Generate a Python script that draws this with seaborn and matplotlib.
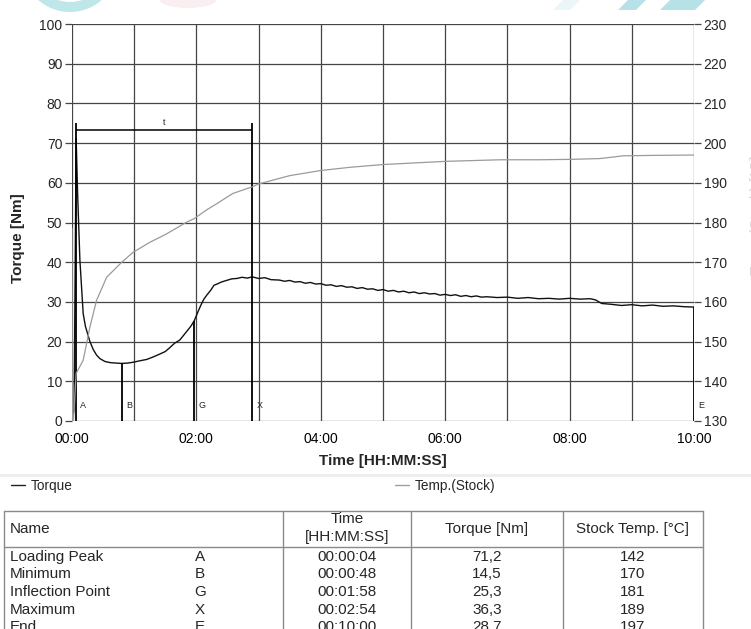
import matplotlib
matplotlib.use("Agg")
import matplotlib.pyplot as plt
import seaborn as sns
import pandas as pd
from matplotlib.patches import Wedge, Polygon, Ellipse
from matplotlib.lines import Line2D
from matplotlib.ticker import MultipleLocator, FuncFormatter

# ---- Torque curve (time in s, torque in Nm) ----
torque_time = [0, 2, 4, 5.4, 7.6, 10.8, 13, 17.3, 20.5, 23.7, 27, 31.7, 37, 42, 48,
               54, 59, 66, 72, 78, 85, 90, 94, 99, 104, 108, 112, 115, 118, 121, 124,
               127, 130, 134, 137, 140, 144, 149, 154, 159, 164, 169, 174, 180, 186,
               192, 200, 205, 210, 215, 220, 225, 230, 235, 240, 245, 250, 255, 260, 265,
               270, 275, 280, 285, 290, 295, 300, 305, 310, 315, 320, 325, 330, 335, 340,
               345, 350, 355, 360, 365, 370, 375, 380, 385, 390, 395, 400, 410, 420, 430,
               440, 450, 460, 470, 480, 490, 500, 505, 511, 520, 530, 540, 550, 560, 570,
               580, 590, 600]
torque_nm = [0, 3.0, 71.2, 57.4, 40.6, 27.0, 23.8, 20.0, 18.0, 16.6, 15.7, 15.0, 14.7, 14.6, 14.5,
             14.6, 14.8, 15.2, 15.5, 16.1, 16.9, 17.5, 18.4, 19.6, 20.4, 21.7, 23.0, 24.0, 25.3, 27.2, 29.0,
             30.6, 31.7, 33.0, 34.2, 34.5, 35.0, 35.4, 35.8, 35.9, 36.2, 36.0, 36.3, 35.9, 36.1,
             35.6, 35.5, 35.2, 35.4, 35.0, 35.1, 34.7, 34.9, 34.5, 34.6, 34.2, 34.3, 33.9, 34.1, 33.7,
             33.8, 33.4, 33.6, 33.2, 33.3, 32.9, 33.1, 32.7, 32.9, 32.5, 32.7, 32.3, 32.5, 32.1, 32.3,
             32.0, 32.1, 31.7, 31.9, 31.6, 31.8, 31.4, 31.6, 31.3, 31.5, 31.2, 31.3, 31.1, 31.2, 30.9,
             31.1, 30.8, 30.9, 30.7, 30.9, 30.7, 30.8, 30.5, 29.6, 29.4, 29.1, 29.3, 29.0, 29.2, 28.9,
             29.0, 28.8, 28.7]

# ---- Stock temperature (time in s, temperature in °C) ----
temp_time = [0, 0.5, 4, 10.8, 17.3, 23.7, 33.4, 48, 59, 75, 91, 110, 118, 130, 140, 155,
             174, 180, 210, 240, 268, 300, 330, 360, 413, 450, 480, 509, 532, 560, 600]
temp_c = [178.5, 126, 142, 145.3, 153.7, 160.4, 166.2, 170.0, 172.5, 175.0, 177.1, 180.0, 181.0,
          183.2, 184.8, 187.3, 189.0, 189.7, 191.8, 193.1, 193.9, 194.6, 195.0, 195.4, 195.8,
          195.8, 195.9, 196.1, 196.8, 196.9, 197.0]

# ---- Evaluated points ----
point_names = ["Loading Peak", "Minimum", "Inflection Point", "Maximum", "End"]
point_letters = ["A", "B", "G", "X", "E"]
point_time = [4, 48, 118, 174, 600]
point_torque = [71.2, 14.5, 25.3, 36.3, 28.7]
point_temp = [142, 170, 181, 189, 197]
bracket_top = 75.0
bracket_level = 73.3

W, H = 751, 629
sns.set_theme(style="white")
plt.rcParams["font.family"] = ["Liberation Sans", "DejaVu Sans"]

fig = plt.figure(figsize=(W / 100, H / 100), dpi=100)
fig.patch.set_facecolor("white")

# full-figure overlay in pixel coordinates for the table and decorations
ov = fig.add_axes([0, 0, 1, 1], zorder=0)
ov.set_xlim(0, W)
ov.set_ylim(H, 0)
ov.axis("off")

ax = fig.add_axes([72 / W, 1 - 421 / H, 622 / W, 397 / H], zorder=1)
ax2 = ax.twinx()

grid_c = "#454545"
light_c = "#e4e4e4"

torque_df = pd.DataFrame({"time": torque_time, "torque": torque_nm})
temp_df = pd.DataFrame({"time": temp_time, "temp": temp_c})

sns.lineplot(data=torque_df, x="time", y="torque", ax=ax, color="#111111",
             linewidth=1.0, sort=False, estimator=None)
sns.lineplot(data=temp_df, x="time", y="temp", ax=ax2, color="#9a9a9a",
             linewidth=0.9, sort=False, estimator=None)

ax.set_xlim(0, 600)
ax.set_ylim(0, 100)
ax2.set_ylim(130, 230)

# grid
ax.xaxis.set_major_locator(MultipleLocator(60))
ax.yaxis.set_major_locator(MultipleLocator(10))
ax2.yaxis.set_major_locator(MultipleLocator(10))
ax.grid(True, color=grid_c, linewidth=0.9)
for gl in (ax.get_ygridlines()[0], ax.get_ygridlines()[-1],
           ax.get_xgridlines()[0], ax.get_xgridlines()[-1]):
    gl.set_color(light_c)


def fmt_time(v, pos):
    m = int(round(v / 60))
    return f"{m:02d}:00" if m % 2 == 0 else ""


ax.xaxis.set_major_formatter(FuncFormatter(fmt_time))
for a in (ax, ax2):
    for s in a.spines.values():
        s.set_visible(False)
ax.tick_params(axis="x", length=4, color=grid_c, width=0.9, labelsize=10, pad=4, labelcolor="black")
ax.tick_params(axis="y", length=5, color=grid_c, width=0.9, labelsize=10, pad=2)
ax2.tick_params(axis="y", length=5, color=grid_c, width=0.9, labelsize=10, pad=2)
for t in (ax.yaxis.get_major_ticks()[0], ax.yaxis.get_major_ticks()[-1]):
    t.tick1line.set_color(light_c)
ax.set_xlabel("Time [HH:MM:SS]", fontsize=11, fontweight="bold", labelpad=6)
ax.set_ylabel("Torque [Nm]", fontsize=11, fontweight="bold")
ax.yaxis.set_label_coords(-47 / 622, (421 - 238) / 397)
ax2.set_ylabel("")

# evaluation markers
heights = []
for letter, tq in zip(point_letters, point_torque):
    heights.append(bracket_top if letter in ("A", "X") else tq)
ax.vlines(point_time, 0, heights, color="black", linewidth=1.3, zorder=3)
ax.hlines(bracket_level, point_time[0], point_time[3], color="black", linewidth=1.1, zorder=3)
ax.text((point_time[0] + point_time[3]) / 2, bracket_level + 1.9, "t", fontsize=6.5,
        ha="center", va="center")
for letter, t in zip(point_letters, point_time):
    ax.text(t + 4, 4, letter, fontsize=6.5, ha="left", va="center")

# legend separator and legend
ov.plot([0, W], [475, 475], color="#ececec", linewidth=2)
handles = [Line2D([], [], color="#222222", linewidth=1.0),
           Line2D([], [], color="#a0a0a0", linewidth=1.0)]
fig.legend(handles, ["Torque", "Temp.(Stock)"], loc="center left",
           bbox_to_anchor=(11 / W, 1 - 486 / H), ncol=2, frameon=False, fontsize=9.8,
           handlelength=1.0, handletextpad=0.45, columnspacing=23.7,
           borderpad=0, borderaxespad=0)

# results table
line_c = "#8a8a8a"
x_left, x_right = 4.3, 703.3
col_x = [283, 410.7, 563.3]
y_top, y_head = 511, 546.7
ov.plot([x_left, x_right], [y_top, y_top], color=line_c, lw=1)
ov.plot([x_left, x_right], [y_head, y_head], color=line_c, lw=1)
for xx in [x_left, x_right] + col_x:
    ov.plot([xx, xx], [y_top, H + 10], color=line_c, lw=1)

tfs = 11
ov.text(10, 529, "Name", fontsize=tfs, ha="left", va="center")
ov.text(347, 519, "Time", fontsize=tfs, ha="center", va="center")
ov.text(347, 537.5, "[HH:MM:SS]", fontsize=tfs, ha="center", va="center")
ov.text(487, 529, "Torque [Nm]", fontsize=tfs, ha="center", va="center")
ov.text(633, 529, "Stock Temp. [°C]", fontsize=tfs, ha="center", va="center")

row_y = [557, 574.5, 592, 609.5, 627]
for y, name, letter, t, tq, tc in zip(row_y, point_names, point_letters, point_time,
                                      point_torque, point_temp):
    ov.text(10, y, name, fontsize=tfs, ha="left", va="center")
    ov.text(200, y, letter, fontsize=tfs, ha="center", va="center")
    ov.text(347, y, f"00:{t // 60:02d}:{t % 60:02d}", fontsize=tfs, ha="center", va="center")
    ov.text(487, y, f"{tq:.1f}".replace(".", ","), fontsize=tfs, ha="center", va="center")
    ov.text(633, y, f"{tc}", fontsize=tfs, ha="center", va="center")

# faint logo remnants along the top edge and clipped side label
ov.add_patch(Wedge((70, -36), 48, 0, 360, width=10, color="#bfe6e9", lw=0))
ov.add_patch(Ellipse((188, 0), 56, 16, color="#f9eef0", lw=0))
ov.add_patch(Polygon([(553, 10), (570, 10), (580, 0), (563, 0)], color="#eaf6f8", lw=0))
ov.add_patch(Polygon([(618, 10), (636, 10), (646, 0), (628, 0)], color="#b6e1e6", lw=0))
ov.add_patch(Polygon([(660, 10), (695, 10), (705, 0), (670, 0)], color="#b6e1e6", lw=0))
ov.text(757, 215, "Temp.(Stock) [°C]", rotation=90, fontsize=11,
        color="#d9d9d9", ha="center", va="center")

fig.savefig("out.png", dpi=100, facecolor="white")
